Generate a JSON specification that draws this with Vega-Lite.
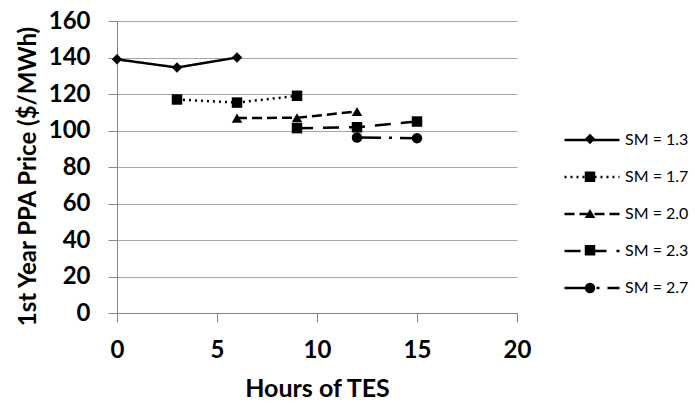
{
  "$schema": "https://vega.github.io/schema/vega-lite/v6.json",
  "width": 400,
  "height": 292,
  "autosize": {"type": "none"},
  "padding": {"left": 117, "top": 21, "right": 178, "bottom": 91},
  "background": "white",
  "config": {"view": {"stroke": null}, "font": "Lato"},
  "data": {
    "values": [
      {"SM": "SM = 1.3", "h": 0, "p": 139},
      {"SM": "SM = 1.3", "h": 3, "p": 134.5},
      {"SM": "SM = 1.3", "h": 6, "p": 140},
      {"SM": "SM = 1.7", "h": 3, "p": 117},
      {"SM": "SM = 1.7", "h": 6, "p": 115.3},
      {"SM": "SM = 1.7", "h": 9, "p": 119},
      {"SM": "SM = 2.0", "h": 6, "p": 106.8},
      {"SM": "SM = 2.0", "h": 9, "p": 107},
      {"SM": "SM = 2.0", "h": 12, "p": 110.4},
      {"SM": "SM = 2.3", "h": 9, "p": 101.3},
      {"SM": "SM = 2.3", "h": 12, "p": 101.8},
      {"SM": "SM = 2.3", "h": 15, "p": 104.9},
      {"SM": "SM = 2.7", "h": 12, "p": 96.2},
      {"SM": "SM = 2.7", "h": 15, "p": 95.8}
    ]
  },
  "encoding": {
    "x": {
      "field": "h", "type": "quantitative",
      "scale": {"domain": [0, 20]},
      "axis": {
        "title": "Hours of TES", "titleFontSize": 25, "titleFontWeight": "bold", "titleColor": "black",
        "titleX": 200, "titleY": 75, "titleBaseline": "middle", "titleAlign": "center",
        "values": [0, 5, 10, 15, 20], "grid": false, "labelOverlap": false, "labelFlush": false,
        "domainColor": "#868686", "tickColor": "#868686", "tickSize": 9,
        "labelFontSize": 24, "labelFontWeight": "bold", "labelColor": "black", "labelPadding": 16
      }
    },
    "y": {
      "field": "p", "type": "quantitative",
      "scale": {"domain": [0, 160]},
      "axis": {
        "title": "1st Year PPA Price ($/MWh)", "titleFontSize": 24, "titleFontWeight": "bold", "titleColor": "black",
        "titleX": -89, "titleY": 155, "titleBaseline": "middle", "titleAlign": "center", "titleAngle": -90,
        "values": [0, 20, 40, 60, 80, 100, 120, 140, 160], "grid": true, "gridColor": "#a6a6a6", "labelOverlap": false,
        "domainColor": "#868686", "tickColor": "#868686", "tickSize": 9,
        "labelFontSize": 24, "labelFontWeight": "bold", "labelColor": "black", "labelPadding": 18
      }
    }
  },
  "layer": [
    {
      "mark": {"type": "line", "strokeWidth": 2.5, "color": "black"},
      "encoding": {
        "strokeDash": {
          "field": "SM", "type": "nominal",
          "scale": {
            "domain": ["SM = 1.3", "SM = 1.7", "SM = 2.0", "SM = 2.3", "SM = 2.7"],
            "range": [[1, 0], [2, 4], [10, 5], [16, 10], [24, 8, 3, 8]]
          },
          "legend": {
            "orient": "none", "legendX": 446, "legendY": 90, "title": null,
            "symbolType": "stroke", "symbolSize": 3025, "symbolStrokeWidth": 2.5, "symbolStrokeColor": "black",
            "labelFontSize": 16, "labelColor": "black", "labelOffset": 4, "rowPadding": -18
          }
        }
      }
    },
    {
      "mark": {"type": "point", "filled": true, "opacity": 1, "color": "black", "size": 110},
      "encoding": {
        "shape": {
          "field": "SM", "type": "nominal",
          "scale": {"range": ["diamond", "square", "triangle-up", "square", "circle"]},
          "legend": {
            "orient": "none", "legendX": 465, "legendY": 110, "title": null,
            "symbolSize": 110, "symbolFillColor": "black", "symbolStrokeColor": "black", "symbolOpacity": 1,
            "labelExpr": "''", "labelFontSize": 16, "rowPadding": 19.75
          }
        }
      }
    }
  ]
}
